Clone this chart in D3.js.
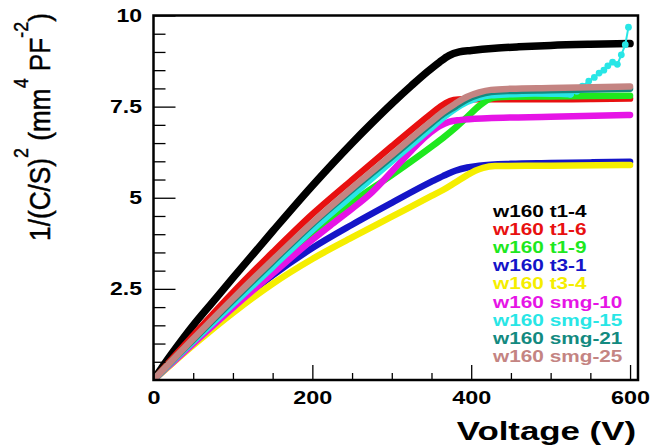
<!DOCTYPE html>
<html>
<head>
<meta charset="utf-8">
<script src="https://cdn.jsdelivr.net/npm/d3@7"></script>
<style>
  body { margin: 0; background: #fff; }
  svg { display: block; }
  text { font-family: "Liberation Sans", Arial, sans-serif; fill: #000; }
</style>
</head>
<body>
<svg id="chart" width="654" height="447"></svg>
<script>
// [voltage, 1/(C/S)^2], one array per sensor
const t1_4 = [[0,0],[10,0.32],[25,0.78],[50,1.5],[75,2.15],[100,2.8],[150,4.08],[200,5.33],[250,6.5],[275,7.05],[300,7.58],[325,8.08],[345,8.46],[360,8.72],[372,8.9],[385,9.0],[400,9.04],[430,9.1],[460,9.14],[500,9.18],[550,9.21],[600,9.23]];
const t1_6 = [[0,0],[25,0.62],[50,1.22],[100,2.4],[150,3.5],[200,4.55],[250,5.49],[300,6.41],[350,7.31],[360,7.48],[368,7.6],[378,7.68],[390,7.7],[450,7.7],[500,7.7],[550,7.71],[600,7.72]];
const t1_9 = [[0,0],[25,0.56],[50,1.1],[100,2.12],[150,3.1],[200,4.05],[250,4.88],[300,5.62],[350,6.4],[365,6.65],[380,6.92],[395,7.22],[410,7.52],[420,7.68],[430,7.75],[450,7.77],[500,7.78],[550,7.79],[600,7.8]];
const t3_1 = [[0,0],[25,0.51],[50,1.02],[100,2.0],[150,2.87],[200,3.62],[250,4.26],[300,4.86],[350,5.44],[365,5.6],[380,5.74],[395,5.83],[410,5.88],[450,5.93],[500,5.95],[550,5.97],[600,5.99]];
const t3_4 = [[0,0],[25,0.48],[50,0.95],[100,1.84],[150,2.64],[200,3.32],[250,3.91],[300,4.48],[350,5.05],[365,5.22],[380,5.42],[395,5.62],[405,5.74],[415,5.82],[430,5.87],[500,5.88],[600,5.9]];
const smg_10 = [[0,0],[25,0.5],[50,1.0],[100,1.98],[150,2.92],[200,3.85],[225,4.28],[250,4.7],[275,5.15],[300,5.72],[325,6.3],[345,6.72],[360,6.96],[372,7.08],[385,7.13],[420,7.18],[500,7.22],[600,7.27]];
const smg_15 = [[0,0],[25,0.54],[50,1.06],[100,2.08],[150,3.1],[200,4.12],[250,5.06],[300,6.0],[350,6.92],[365,7.2],[380,7.44],[395,7.63],[410,7.75],[425,7.81],[450,7.84],[480,7.86],[510,7.85],[525,7.84]];
const smg_15_tail = [[525,7.84],[533,7.92],[540,8.06],[548,8.2],[555,8.3],[561,8.42],[567,8.5],[572,8.62],[578,8.72],[584,8.66],[589,8.92],[594,9.2],[598,9.68]];
const smg_21 = [[0,0],[25,0.56],[50,1.1],[100,2.18],[150,3.24],[200,4.28],[250,5.22],[300,6.12],[350,7.04],[365,7.3],[380,7.5],[395,7.7],[410,7.83],[425,7.9],[450,7.93],[500,7.95],[550,7.97],[600,7.99]];
const smg_25 = [[0,0],[25,0.57],[50,1.13],[100,2.23],[150,3.29],[200,4.32],[250,5.27],[300,6.18],[350,7.1],[365,7.36],[380,7.58],[395,7.77],[410,7.89],[425,7.96],[450,7.99],[500,8.01],[550,8.03],[600,8.05]];

const seriesNames = ["w160 t1-4", "w160 t1-6", "w160 t1-9", "w160 t3-1", "w160 t3-4",
                     "w160 smg-10", "w160 smg-15", "w160 smg-21", "w160 smg-25"];
const seriesData = [t1_4, t1_6, t1_9, t3_1, t3_4, smg_10, smg_15, smg_21, smg_25];
const seriesColors = ["#000000", "#e81010", "#1ee81e", "#1414c8", "#f5ee00",
                      "#e614e6", "#28e6e6", "#138a80", "#c48482"];

const xMajorTicks = [0, 200, 400, 600];
const yMajorTicks = [2.5, 5, 7.5, 10];
const yTickLabels = ["2.5", "5", "7.5", "10"];

const svg = d3.select("#chart");

const plotLeft = 153.5, plotRight = 638, plotTop = 15.5, plotBottom = 380;
const x = d3.scaleLinear().domain([0, 610]).range([plotLeft, plotRight]);
const y = d3.scaleLinear().domain([0, 10]).range([plotBottom, plotTop]);

// clip so the fat lines stay inside the frame
svg.append("defs").append("clipPath").attr("id", "plotClip")
  .append("rect").attr("x", plotLeft).attr("y", plotTop)
  .attr("width", plotRight - plotLeft).attr("height", plotBottom - plotTop);

const plot = svg.append("g").attr("clip-path", "url(#plotClip)");

const line = d3.line()
  .x(d => x(d[0]))
  .y(d => y(d[1]))
  .curve(d3.curveMonotoneX);

seriesData.forEach((data, i) => {
  plot.append("path")
    .datum(data)
    .attr("fill", "none")
    .attr("stroke", seriesColors[i])
    .attr("stroke-width", i === 0 ? 7.5 : 6.5)
    .attr("stroke-linejoin", "round")
    .attr("stroke-linecap", "round")
    .attr("d", line);

  if (i === 6) {
    // the noisy end of smg-15 is drawn as markers joined by a thin line
    plot.append("path")
      .datum(smg_15_tail)
      .attr("fill", "none")
      .attr("stroke", seriesColors[i])
      .attr("stroke-width", 2)
      .attr("d", d3.line().x(d => x(d[0])).y(d => y(d[1])));
    plot.selectAll(".tail-dot")
      .data(smg_15_tail)
      .enter().append("circle")
      .attr("class", "tail-dot")
      .attr("cx", d => x(d[0]))
      .attr("cy", d => y(d[1]))
      .attr("r", 3.4)
      .attr("fill", seriesColors[i]);
  }
});

// frame
svg.append("rect")
  .attr("x", plotLeft).attr("y", plotTop)
  .attr("width", plotRight - plotLeft).attr("height", plotBottom - plotTop)
  .attr("fill", "none").attr("stroke", "#000").attr("stroke-width", 2.5);

// x axis: ticks point up into the plot
const xMinor = d3.range(50, 601, 50).filter(v => !xMajorTicks.includes(v));
svg.append("g")
  .attr("transform", `translate(0,${plotBottom})`)
  .call(d3.axisBottom(x).tickValues(xMinor).tickSizeInner(-7).tickSizeOuter(0).tickFormat(""))
  .call(g => g.select(".domain").remove())
  .call(g => g.selectAll("line").attr("stroke-width", 1.3));

svg.append("g")
  .attr("transform", `translate(0,${plotBottom})`)
  .call(d3.axisBottom(x).tickValues(xMajorTicks).tickSizeInner(-15).tickSizeOuter(0).tickPadding(11).tickFormat(d3.format("d")))
  .call(g => g.select(".domain").remove())
  .call(g => g.selectAll("line").attr("stroke-width", 1.3))
  .call(g => g.selectAll("text")
    .attr("font-size", 18).attr("font-weight", "bold")
    .attr("font-family", '"Liberation Sans", Arial, sans-serif')
    .attr("fill", "#000")
    .attr("transform", "scale(1.3,1)"));

// y axis: ticks point right into the plot
const yMinor = d3.range(0.5, 10, 0.5).filter(v => !yMajorTicks.includes(v));
svg.append("g")
  .attr("transform", `translate(${plotLeft},0)`)
  .call(d3.axisLeft(y).tickValues(yMinor).tickSizeInner(-12).tickSizeOuter(0).tickFormat(""))
  .call(g => g.select(".domain").remove())
  .call(g => g.selectAll("line").attr("stroke-width", 1.3));

svg.append("g")
  .attr("transform", `translate(${plotLeft},0)`)
  .call(d3.axisLeft(y).tickValues(yMajorTicks).tickSizeInner(-22).tickSizeOuter(0).tickPadding(9)
    .tickFormat((d, i) => yTickLabels[i]))
  .call(g => g.select(".domain").remove())
  .call(g => g.selectAll("line").attr("stroke-width", 1.3))
  .call(g => g.selectAll("text")
    .attr("font-size", 18).attr("font-weight", "bold")
    .attr("font-family", '"Liberation Sans", Arial, sans-serif')
    .attr("fill", "#000")
    .attr("transform", "scale(1.28,1)"));

// x title
svg.append("text")
  .attr("transform", "translate(636,440) scale(1.34,1)")
  .attr("text-anchor", "end")
  .attr("font-size", 26)
  .attr("font-weight", "bold")
  .text("Voltage (V)");

// y title with superscripts
const yTitle = svg.append("text")
  .attr("text-anchor", "middle")
  .attr("font-size", 25)
  .style("stroke", "#000")
  .style("stroke-width", 0.4);
yTitle.append("tspan").text("1/(C/S)");
yTitle.append("tspan").attr("font-size", 17).attr("dy", -19).text("2");
yTitle.append("tspan").attr("dy", 19).text(" (mm");
yTitle.append("tspan").attr("font-size", 17).attr("dy", -19).text("4");
yTitle.append("tspan").attr("dy", 19).text(" PF");
yTitle.append("tspan").attr("font-size", 17).attr("dy", -19).text("-2");
yTitle.append("tspan").attr("dy", 19).text(")");
const titleLen = yTitle.node().getComputedTextLength();
yTitle.attr("transform", `translate(50,127) rotate(-90) scale(${228 / titleLen},1.15)`);

// legend
const legend = svg.append("g");
seriesNames.forEach((name, i) => {
  legend.append("text")
    .attr("transform", `translate(493,${211 + i * 18.2 + 5.5}) scale(1.3,1)`)
    .attr("font-size", 16)
    .attr("font-weight", "bold")
    .style("fill", seriesColors[i])
    .text(name);
});
</script>
</body>
</html>
